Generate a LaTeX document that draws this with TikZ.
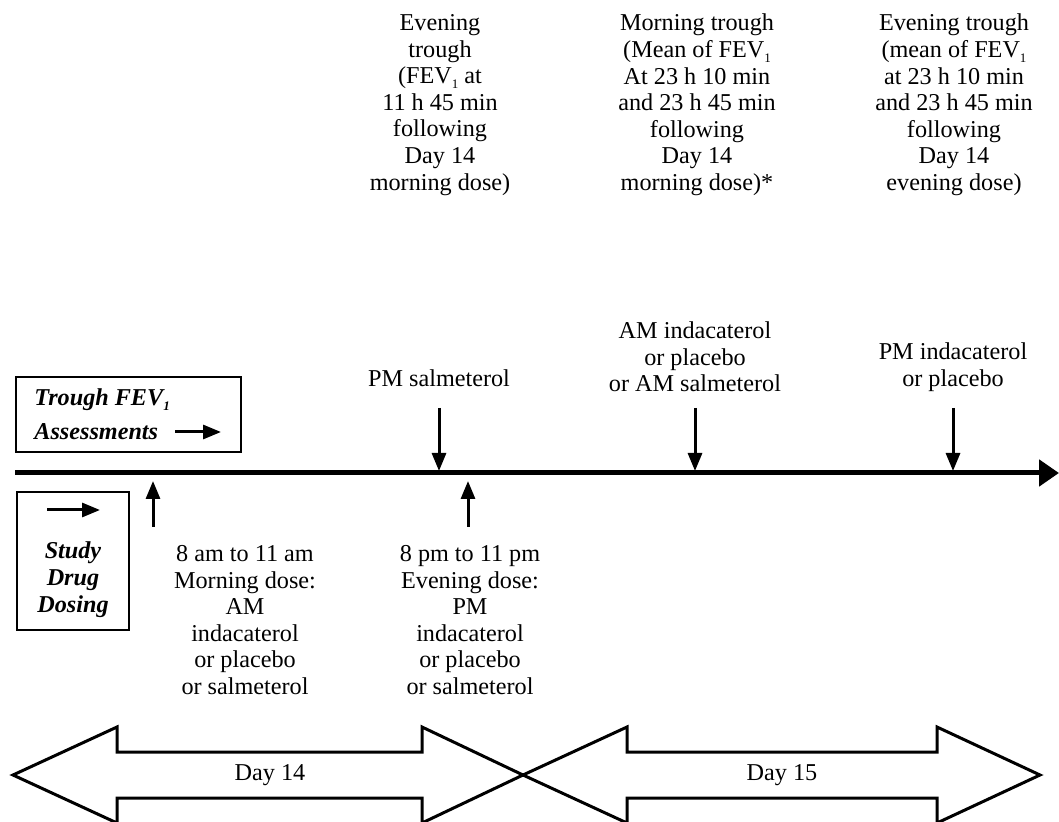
\documentclass[tikz,border=0pt]{standalone}
\usepackage{fontspec}
\setmainfont{Liberation Serif}
\usetikzlibrary{arrows.meta}
\newcommand{\subone}{\raisebox{-0.45ex}{\fontsize{6.5}{7}\selectfont 1}}
\tikzset{
	lbl/.style={align=center, inner sep=0pt, font=\fontsize{12.1}{13.3}\selectfont},
	boxlbl/.style={inner sep=0pt, font=\fontsize{12.1}{13.5}\selectfont\bfseries\itshape},
	axisline/.style={line width=2.5pt, -{Triangle[length=10pt,width=13pt]}},
	tickarrow/.style={line width=1.5pt, -{Triangle[length=9pt,width=7pt]}},
	legendbox/.style={line width=1pt},
	dayarrow/.style={line width=1.5pt, line join=miter}
}

\begin{document}
\begin{tikzpicture}[x=0.5pt, y=-0.5pt]
		%%%%% START %%%%%
		\clip (0, 0) rectangle (1059, 822);
		
		% trough texts on top
		\node[lbl] (evetrough) at (440, 105) {Evening\\trough\\(FEV\subone{} at\\11 h 45 min\\following\\Day 14\\morning dose)};
		\node[lbl] (morntrough) at (697, 105) {Morning trough\\(Mean of FEV\subone\\At 23 h 10 min\\and 23 h 45 min\\following\\Day 14\\morning dose)*};
		\node[lbl] (evetrough2) at (954, 105) {Evening trough\\(mean of FEV\subone\\at 23 h 10 min\\and 23 h 45 min\\following\\Day 14\\evening dose)};
		
		% legend boxes
		\draw[legendbox] (16, 377) rectangle (241, 452);
		\node[boxlbl, anchor=west] (troughfev) at (34, 400) {Trough FEV\subone};
		\node[boxlbl, anchor=west] (assess) at (34, 432) {Assessments};
		\coordinate (assessA) at (175, 432);
		\coordinate (assessB) at (221, 432);
		\draw[tickarrow] (assessA) -- (assessB);
		
		\draw[legendbox] (17, 492) rectangle (129, 630);
		\coordinate (dosingA) at (47, 510);
		\coordinate (dosingB) at (100, 510);
		\draw[tickarrow] (dosingA) -- (dosingB);
		\node[boxlbl, align=center] (studydrug) at (73, 580) {Study\\Drug\\Dosing};
		
		% time line
		\coordinate (tstart) at (15, 473);
		\coordinate (tend) at (1059, 473);
		\draw[axisline] (tstart) -- (tend);
		
		% assessments
		\node[lbl] (pmsal) at (439, 378) {PM salmeterol};
		\node[lbl] (amind) at (695, 357) {AM indacaterol\\or placebo\\or AM salmeterol};
		\node[lbl] (pmind) at (953, 367) {PM indacaterol\\or placebo};
		\coordinate (pmsalA) at (439, 408);
		\coordinate (pmsalB) at (439, 471);
		\coordinate (amindA) at (695, 408);
		\coordinate (amindB) at (695, 471);
		\coordinate (pmindA) at (953, 408);
		\coordinate (pmindB) at (953, 471);
		\draw[tickarrow] (pmsalA) -- (pmsalB);
		\draw[tickarrow] (amindA) -- (amindB);
		\draw[tickarrow] (pmindA) -- (pmindB);
		
		% dosing
		\coordinate (amdoseA) at (153, 527);
		\coordinate (amdoseB) at (153, 481);
		\coordinate (pmdoseA) at (468, 527);
		\coordinate (pmdoseB) at (468, 481);
		\draw[tickarrow] (amdoseA) -- (amdoseB);
		\draw[tickarrow] (pmdoseA) -- (pmdoseB);
		\node[lbl] (amdose) at (245, 620) {8 am to 11 am\\Morning dose:\\AM\\indacaterol\\or placebo\\or salmeterol};
		\node[lbl] (pmdose) at (470, 620) {8 pm to 11 pm\\Evening dose:\\PM\\indacaterol\\or placebo\\or salmeterol};
		
		% days
		\draw[dayarrow] (13, 775) -- (117, 727) -- (117, 752) -- (422, 752) -- (422, 727) -- (523, 775)
			-- (422, 823) -- (422, 798) -- (117, 798) -- (117, 823) -- cycle;
		\draw[dayarrow] (523, 775) -- (627, 727) -- (627, 752) -- (937, 752) -- (937, 727) -- (1040, 775)
			-- (937, 823) -- (937, 798) -- (627, 798) -- (627, 823) -- cycle;
		\node[lbl] (day14) at (270, 775) {Day 14};
		\node[lbl] (day15) at (782, 775) {Day 15};
		
		%%%%% END %%%%%
\end{tikzpicture}
\end{document}
